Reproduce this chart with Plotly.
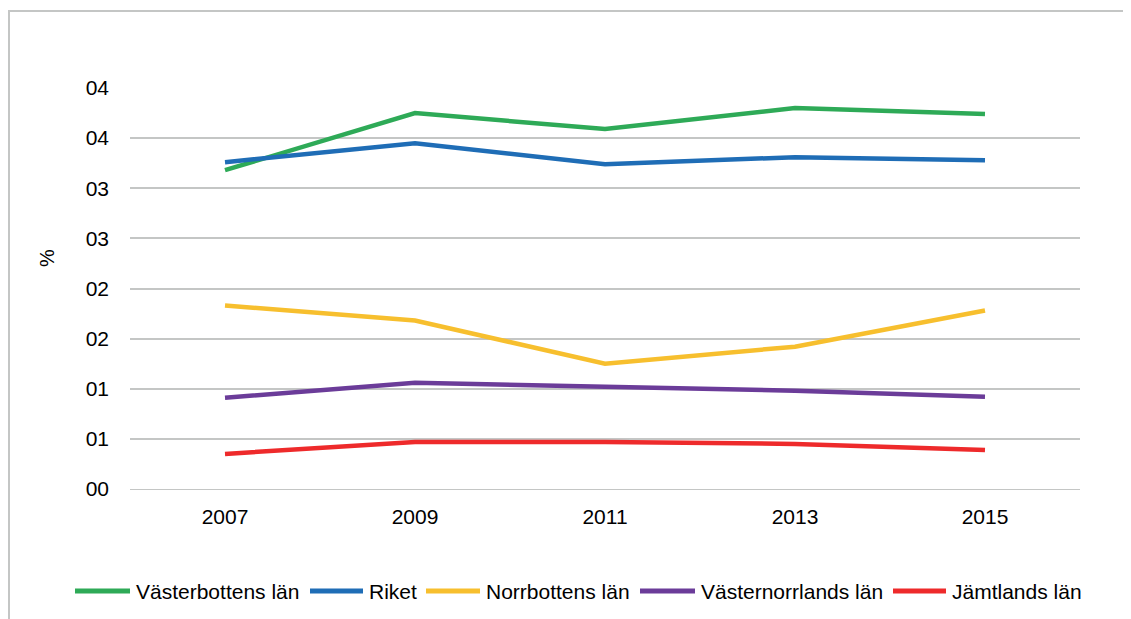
import plotly.graph_objects as go

years = ["2007", "2009", "2011", "2013", "2015"]
series_names = ["Västerbottens län", "Riket", "Norrbottens län", "Västernorrlands län", "Jämtlands län"]
vasterbotten = [3.18, 3.75, 3.59, 3.80, 3.74]
riket = [3.26, 3.45, 3.24, 3.31, 3.28]
norrbotten = [1.83, 1.68, 1.25, 1.42, 1.78]
vasternorrland = [0.91, 1.06, 1.02, 0.98, 0.92]
jamtland = [0.35, 0.47, 0.47, 0.45, 0.39]
y_tickvals = [0, 0.5, 1, 1.5, 2, 2.5, 3, 3.5, 4]
y_ticktext = ["00", "01", "01", "02", "02", "03", "03", "04", "04"]
colors = ["#2EAA57", "#1F6DB6", "#F7BF2E", "#6B3C99", "#EE2A2B"]

W, H = 1123, 611
ML, MR, MT, MB = 122, 51, 80, 130
PW, PH = W - ML - MR, H - MT - MB

def px(x):
    return (x - ML) / PW

def py(y):
    return (H - MB - y) / PH

font = "Liberation Sans, Arial, sans-serif"
grid = "#C4C6C5"

fig = go.Figure()
for name, vals, col in zip(series_names, [vasterbotten, riket, norrbotten, vasternorrland, jamtland], colors):
    fig.add_trace(go.Scatter(x=years, y=vals, name=name, mode="lines",
                             line=dict(color=col, width=4.5), showlegend=False))

# manual legend (line swatch + label)
legend_line_x = [(67, 122), (302, 355), (418, 472), (632, 687), (885, 938)]
legend_y = 583
shapes = []
annotations = []
for (x0, x1), name, col in zip(legend_line_x, series_names, colors):
    shapes.append(dict(type="line", xref="paper", yref="paper", x0=px(x0), x1=px(x1),
                       y0=py(legend_y), y1=py(legend_y),
                       line=dict(color=col, width=5)))
    annotations.append(dict(text=name, xref="paper", yref="paper", x=px(x1 + 4), y=py(legend_y),
                            xanchor="left", yanchor="middle", showarrow=False,
                            font=dict(size=21, family=font, color="#000000")))

annotations.append(dict(text="%", xref="paper", yref="paper", x=px(39), y=py(250),
                        textangle=-90, showarrow=False, font=dict(size=20, family=font),
                        xanchor="center", yanchor="middle"))

# outer frame (top and left edges)
shapes.append(dict(type="line", xref="paper", yref="paper", x0=px(0), x1=px(W + 20), y0=py(3), y1=py(3),
                   line=dict(color=grid, width=2)))
shapes.append(dict(type="line", xref="paper", yref="paper", x0=px(1), x1=px(1), y0=py(3), y1=py(H + 20),
                   line=dict(color=grid, width=2)))

fig.update_layout(
    width=W, height=H,
    margin=dict(l=ML, r=MR, t=MT, b=MB),
    paper_bgcolor="white", plot_bgcolor="white",
    font=dict(family=font, size=21, color="#000000"),
    showlegend=False,
    xaxis=dict(type="category", range=[-0.5, 4.5], showgrid=False, showline=False, ticks="",
               tickfont=dict(size=21), ticklabelstandoff=13),
    yaxis=dict(range=[0, 4], tickvals=y_tickvals, ticktext=y_ticktext,
               showgrid=True, gridcolor=grid, gridwidth=2,
               zeroline=True, zerolinecolor=grid, zerolinewidth=1,
               showline=False, ticks="", tickfont=dict(size=21), ticklabelstandoff=20),
    annotations=annotations,
    shapes=shapes,
)

fig.write_html("out.html")
